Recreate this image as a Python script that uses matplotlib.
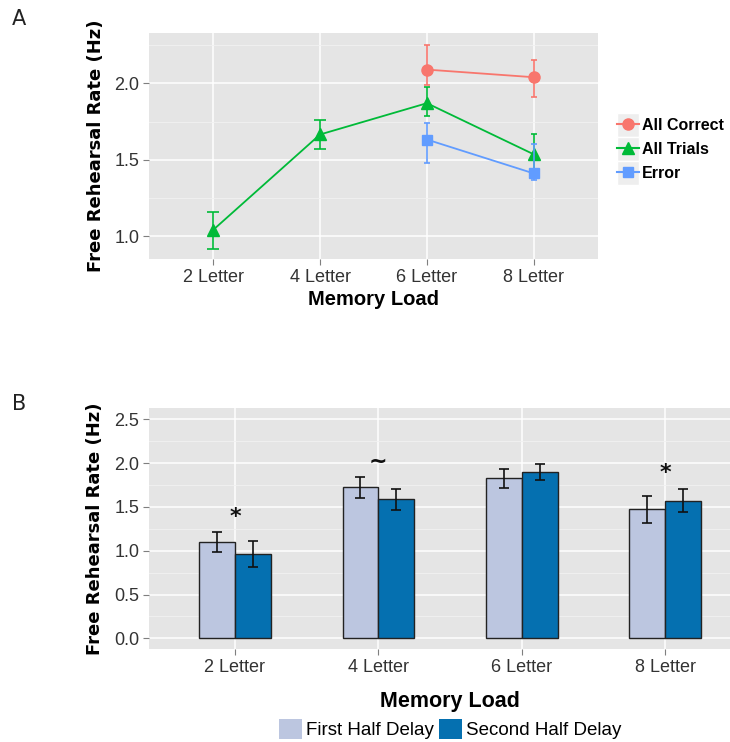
import numpy as np
import matplotlib
matplotlib.use('Agg')
import matplotlib.pyplot as plt
from matplotlib.patches import Patch, Rectangle
from matplotlib.lines import Line2D
from matplotlib.legend_handler import HandlerLine2D

# memory load conditions
loads = ['2 Letter', '4 Letter', '6 Letter', '8 Letter']

# panel A: mean rate with lower/upper error limits (NaN = not measured)
correct_mean = [np.nan, np.nan, 2.09, 2.04]
correct_lo = [np.nan, np.nan, 1.99, 1.91]
correct_hi = [np.nan, np.nan, 2.25, 2.15]

trials_mean = [1.04, 1.665, 1.87, 1.535]
trials_lo = [0.915, 1.567, 1.785, 1.40]
trials_hi = [1.16, 1.763, 1.975, 1.67]

error_mean = [np.nan, np.nan, 1.632, 1.41]
error_lo = [np.nan, np.nan, 1.48, 1.367]
error_hi = [np.nan, np.nan, 1.743, 1.60]

# panel B: first vs second half of the delay
first_half = [1.10, 1.725, 1.825, 1.475]
first_err = [0.11, 0.12, 0.11, 0.155]
second_half = [0.96, 1.585, 1.90, 1.573]
second_err = [0.15, 0.12, 0.09, 0.135]
signif = ['*', '~', '', '*']

GREY_BG = '#E5E5E5'
tickfont = 'Liberation Sans'

fig = plt.figure(figsize=(7.3, 7.42), dpi=100)


class KeyHandler(HandlerLine2D):
    # legend key with a grey square behind the line + marker
    def create_artists(self, legend, orig_handle, xdescent, ydescent, width, height, fontsize, trans):
        bg = Rectangle((-xdescent, -ydescent - 3.5), width, height + 7, facecolor='#EEEEEE',
                       edgecolor='white', lw=1.0, transform=trans)
        arts = super().create_artists(legend, orig_handle, xdescent, ydescent,
                                      width, height, fontsize, trans)
        return [bg] + list(arts)


def style_axes(ax):
    ax.set_facecolor(GREY_BG)
    for s in ax.spines.values():
        s.set_visible(False)
    ax.grid(which='major', color='white', lw=1.1)
    ax.grid(which='minor', axis='y', color='#F2F2F2', lw=0.6)
    ax.set_axisbelow(True)
    ax.tick_params(which='major', length=4, color='#7F7F7F', width=0.8,
                   labelsize=13, labelcolor='#333333', pad=3)
    ax.tick_params(which='minor', length=0)
    for lab in ax.get_xticklabels() + ax.get_yticklabels():
        lab.set_family(tickfont)

# ---------------- panel A ----------------
axA = fig.add_axes([0.2041, 0.651, 0.615, 0.3046])
x = np.arange(1, 5)
series = [
    ('All Correct', correct_mean, correct_lo, correct_hi, '#F8766D', 'o', 8, [2, 2, 2, 2]),
    ('All Trials', trials_mean, trials_lo, trials_hi, '#00BA38', '^', 9, [4.5, 4.5, 2, 2]),
    ('Error', error_mean, error_lo, error_hi, '#619CFF', 's', 7.5, [2, 2, 2, 2]),
]
handles = []
for name, m, lo, hi, col, mk, ms, caps in series:
    m = np.array(m); lo = np.array(lo); hi = np.array(hi)
    ok = ~np.isnan(m)
    for xi, mi, l, h, cs in zip(x[ok], m[ok], lo[ok], hi[ok], np.array(caps)[ok]):
        axA.errorbar(xi, mi, yerr=[[mi - l], [h - mi]], fmt='none', ecolor=col,
                     elinewidth=1.2, capsize=cs, capthick=1.2)
    axA.plot(x[ok], m[ok], color=col, lw=1.3, marker=mk, ms=ms, mec=col)
    handles.append(Line2D([], [], color=col, lw=1.5, marker=mk, ms=ms))

axA.set_xlim(0.4, 4.6)
axA.set_ylim(0.85, 2.33)
axA.set_xticks(x)
axA.set_xticklabels(loads)
axA.set_yticks([1.0, 1.5, 2.0])
axA.set_yticks([1.25, 1.75, 2.25], minor=True)
style_axes(axA)
axA.set_xlabel('Memory Load', fontsize=14.5, fontweight='bold', family=tickfont, labelpad=3)
axA.set_ylabel('Free Rehearsal Rate (Hz)', fontsize=13, fontweight='bold', labelpad=7)

axA.legend(handles, [s[0] for s in series], handler_map={Line2D: KeyHandler()},
           loc='center left', bbox_to_anchor=(1.042, 0.485), frameon=False,
           prop={'weight': 'bold', 'size': 11.5, 'family': tickfont},
           handlelength=1.4, handleheight=1.0, borderpad=0,
           handletextpad=0.2, labelspacing=0.52, borderaxespad=0)

fig.text(0.016, 0.988, 'A', fontsize=15, va='top', color='#222222')

# ---------------- panel B ----------------
axB = fig.add_axes([0.2041, 0.1249, 0.8247, 0.3248])
w = 0.25
axB.bar(x - w / 2, first_half, w, color='#BCC6E0', edgecolor='#222222', lw=1.0, zorder=2)
axB.bar(x + w / 2, second_half, w, color='#0570B0', edgecolor='#222222', lw=1.0, zorder=2)
axB.errorbar(x - w / 2, first_half, yerr=first_err, fmt='none', ecolor='#111111',
             elinewidth=1.2, capsize=3.5, capthick=1.2, zorder=3)
axB.errorbar(x + w / 2, second_half, yerr=second_err, fmt='none', ecolor='#111111',
             elinewidth=1.2, capsize=3.5, capthick=1.2, zorder=3)
for xi, s, a, ea, b, eb in zip(x, signif, first_half, first_err, second_half, second_err):
    if s:
        top = max(a + ea, b + eb)
        axB.text(xi, top + 0.06, s, ha='center', va='bottom', fontsize=16,
                 fontweight='bold', color='#111111')

axB.set_xlim(0.4, 4.6)
axB.set_ylim(-0.125, 2.625)
axB.set_xticks(x)
axB.set_xticklabels(loads)
axB.set_yticks([0.0, 0.5, 1.0, 1.5, 2.0, 2.5])
axB.set_yticks([0.25, 0.75, 1.25, 1.75, 2.25], minor=True)
style_axes(axB)
axB.set_xlabel('Memory Load', fontsize=15.5, fontweight='bold', family=tickfont, labelpad=11)
axB.set_ylabel('Free Rehearsal Rate (Hz)', fontsize=13, fontweight='bold', labelpad=7)

fig.legend([Patch(facecolor='#BCC6E0'), Patch(facecolor='#0570B0')],
           ['First Half Delay', 'Second Half Delay'], loc='lower left',
           bbox_to_anchor=(279 / 730, 0.004), ncol=2, frameon=False,
           prop={'family': tickfont, 'size': 13.5}, handlelength=1.23, handleheight=1.3,
           handletextpad=0.2, columnspacing=0.3, borderaxespad=0, borderpad=0)

fig.text(0.016, 0.469, 'B', fontsize=15, va='top', color='#222222')

fig.savefig('out.png', dpi=100)
